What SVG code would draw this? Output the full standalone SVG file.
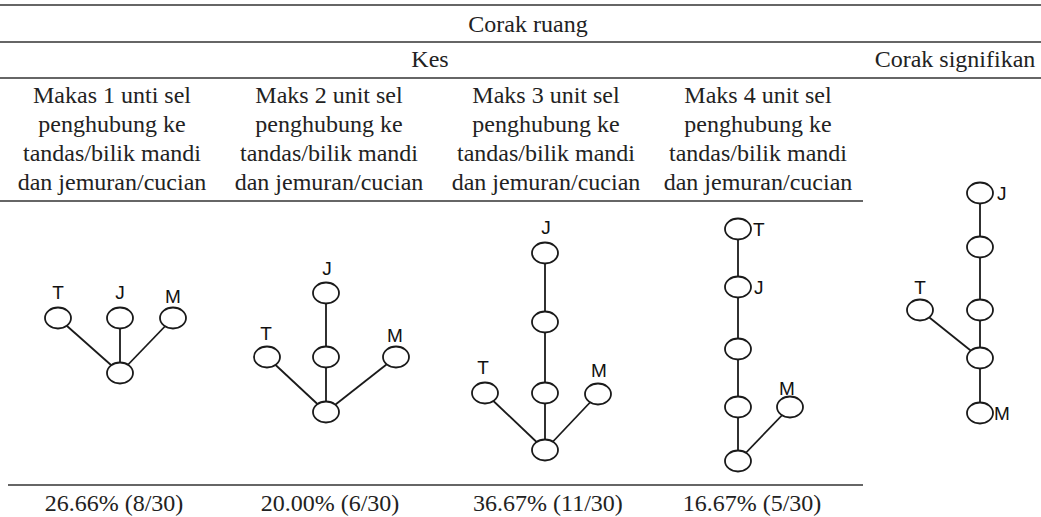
<svg xmlns="http://www.w3.org/2000/svg" width="1041" height="517" viewBox="0 0 1041 517">
<style>
.rule{stroke:#333;stroke-width:1.6;fill:none}
.t{font-family:"Liberation Serif","Times New Roman",serif;font-size:24px;fill:#222;text-anchor:middle}
.lb{font-family:"Liberation Sans",Arial,sans-serif;font-size:19px;fill:#111}
.n{fill:#fff;stroke:#1a1a1a;stroke-width:1.8}
.e{stroke:#1a1a1a;stroke-width:1.8;fill:none}
</style>
<rect width="1041" height="517" fill="#fff"/>
<g id="table-rules">
<line class="rule" x1="0" y1="5" x2="1041" y2="5"/>
<line class="rule" x1="0" y1="42" x2="1041" y2="42"/>
<line class="rule" x1="0" y1="78" x2="1041" y2="78"/>
<line class="rule" x1="0" y1="201" x2="863" y2="201"/>
<line class="rule" x1="8" y1="485" x2="863" y2="485"/>
</g>
<g id="headers">
<text class="t" x="528" y="32">Corak ruang</text>
<text class="t" x="430" y="67">Kes</text>
<text class="t" x="955" y="67">Corak signifikan</text>
<g id="col1-head"><text class="t" x="112" y="103">Makas 1 unti sel</text><text class="t" x="112" y="132">penghubung ke</text><text class="t" x="112" y="161">tandas/bilik mandi</text><text class="t" x="112" y="190">dan jemuran/cucian</text></g>
<g id="col2-head"><text class="t" x="329" y="103">Maks 2 unit sel</text><text class="t" x="329" y="132">penghubung ke</text><text class="t" x="329" y="161">tandas/bilik mandi</text><text class="t" x="329" y="190">dan jemuran/cucian</text></g>
<g id="col3-head"><text class="t" x="546" y="103">Maks 3 unit sel</text><text class="t" x="546" y="132">penghubung ke</text><text class="t" x="546" y="161">tandas/bilik mandi</text><text class="t" x="546" y="190">dan jemuran/cucian</text></g>
<g id="col4-head"><text class="t" x="758" y="103">Maks 4 unit sel</text><text class="t" x="758" y="132">penghubung ke</text><text class="t" x="758" y="161">tandas/bilik mandi</text><text class="t" x="758" y="190">dan jemuran/cucian</text></g>
</g>
<g id="percentages">
<text class="t" x="114" y="511">26.66% (8/30)</text>
<text class="t" x="330" y="511">20.00% (6/30)</text>
<text class="t" x="548" y="511">36.67% (11/30)</text>
<text class="t" x="752" y="511">16.67% (5/30)</text>
</g>
<g id="connectors">
<line class="e" x1="58" y1="318" x2="120" y2="373"/>
<line class="e" x1="120" y1="318" x2="120" y2="373"/>
<line class="e" x1="173" y1="318" x2="120" y2="373"/>
<line class="e" x1="267" y1="357" x2="326" y2="412"/>
<line class="e" x1="326" y1="293" x2="326" y2="412"/>
<line class="e" x1="396" y1="357" x2="326" y2="412"/>
<line class="e" x1="485" y1="393" x2="545" y2="450"/>
<line class="e" x1="545" y1="253" x2="545" y2="450"/>
<line class="e" x1="598" y1="394" x2="545" y2="450"/>
<line class="e" x1="738" y1="229" x2="738" y2="461"/>
<line class="e" x1="790" y1="407" x2="738" y2="461"/>
<line class="e" x1="980" y1="193" x2="980" y2="413"/>
<line class="e" x1="920" y1="310" x2="980" y2="358"/>
</g>
<g id="tree1">
<ellipse class="n" cx="58" cy="318" rx="13" ry="10.5"/><text class="lb" x="58" y="299" text-anchor="middle">T</text>
<ellipse class="n" cx="120" cy="318" rx="13" ry="10.5"/><text class="lb" x="120" y="299" text-anchor="middle">J</text>
<ellipse class="n" cx="173" cy="318" rx="13" ry="10.5"/><text class="lb" x="173" y="303" text-anchor="middle">M</text>
<ellipse class="n" cx="120" cy="373" rx="13" ry="10.5"/>
</g>
<g id="tree2">
<ellipse class="n" cx="326" cy="293" rx="13" ry="10.5"/><text class="lb" x="327" y="275" text-anchor="middle">J</text>
<ellipse class="n" cx="267" cy="357" rx="13" ry="10.5"/><text class="lb" x="266" y="340" text-anchor="middle">T</text>
<ellipse class="n" cx="326" cy="357" rx="13" ry="10.5"/>
<ellipse class="n" cx="396" cy="357" rx="13" ry="10.5"/><text class="lb" x="395" y="342" text-anchor="middle">M</text>
<ellipse class="n" cx="326" cy="412" rx="13" ry="10.5"/>
</g>
<g id="tree3">
<ellipse class="n" cx="545" cy="253" rx="13" ry="10.5"/><text class="lb" x="546" y="234" text-anchor="middle">J</text>
<ellipse class="n" cx="545" cy="322" rx="13" ry="10.5"/>
<ellipse class="n" cx="545" cy="393" rx="13" ry="10.5"/>
<ellipse class="n" cx="485" cy="393" rx="13" ry="10.5"/><text class="lb" x="483" y="374" text-anchor="middle">T</text>
<ellipse class="n" cx="598" cy="394" rx="13" ry="10.5"/><text class="lb" x="599" y="377" text-anchor="middle">M</text>
<ellipse class="n" cx="545" cy="450" rx="13" ry="10.5"/>
</g>
<g id="tree4">
<ellipse class="n" cx="738" cy="229" rx="13" ry="10.5"/><text class="lb" x="753" y="236">T</text>
<ellipse class="n" cx="738" cy="287" rx="13" ry="10.5"/><text class="lb" x="754" y="294">J</text>
<ellipse class="n" cx="738" cy="349" rx="13" ry="10.5"/>
<ellipse class="n" cx="738" cy="407" rx="13" ry="10.5"/>
<ellipse class="n" cx="790" cy="407" rx="13" ry="10.5"/><text class="lb" x="787" y="395" text-anchor="middle">M</text>
<ellipse class="n" cx="738" cy="461" rx="13" ry="10.5"/>
</g>
<g id="tree5">
<ellipse class="n" cx="980" cy="193" rx="13" ry="10.5"/><text class="lb" x="997" y="200">J</text>
<ellipse class="n" cx="980" cy="247" rx="13" ry="10.5"/>
<ellipse class="n" cx="980" cy="310" rx="13" ry="10.5"/>
<ellipse class="n" cx="920" cy="310" rx="13" ry="10.5"/><text class="lb" x="920" y="294" text-anchor="middle">T</text>
<ellipse class="n" cx="980" cy="358" rx="13" ry="10.5"/>
<ellipse class="n" cx="980" cy="413" rx="13" ry="10.5"/><text class="lb" x="994" y="420">M</text>
</g>
</svg>
